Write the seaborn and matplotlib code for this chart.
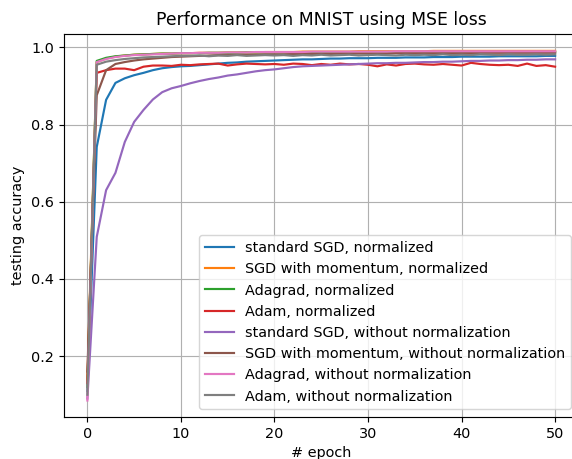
import matplotlib
matplotlib.use("Agg")
import matplotlib.pyplot as plt
import seaborn as sns
import pandas as pd

epochs = list(range(51))

labels = [
    "standard SGD, normalized",
    "SGD with momentum, normalized",
    "Adagrad, normalized",
    "Adam, normalized",
    "standard SGD, without normalization",
    "SGD with momentum, without normalization",
    "Adagrad, without normalization",
    "Adam, without normalization",
]

sgd_norm = [0.11, 0.742, 0.864, 0.908, 0.920, 0.928, 0.934, 0.941, 0.946, 0.949,
            0.951, 0.952, 0.954, 0.956, 0.958, 0.960, 0.961, 0.963, 0.964, 0.965,
            0.966, 0.967, 0.968, 0.969, 0.969, 0.970, 0.971, 0.971, 0.972, 0.972,
            0.972, 0.973, 0.973, 0.973, 0.974, 0.974, 0.974, 0.975, 0.975, 0.975,
            0.976, 0.976, 0.976, 0.976, 0.977, 0.977, 0.977, 0.977, 0.977, 0.978,
            0.978]
momentum_norm = [0.14, 0.962, 0.971, 0.976, 0.979, 0.981, 0.982, 0.983, 0.984, 0.984,
                 0.985, 0.985, 0.986, 0.986, 0.986, 0.987, 0.987, 0.987, 0.987, 0.988,
                 0.988, 0.988, 0.988, 0.989, 0.989, 0.989, 0.989, 0.989, 0.989, 0.990,
                 0.990, 0.990, 0.990, 0.990, 0.990, 0.990, 0.990, 0.991, 0.991, 0.991,
                 0.991, 0.991, 0.991, 0.991, 0.991, 0.991, 0.991, 0.991, 0.991, 0.991,
                 0.991]
adagrad_norm = [0.12, 0.965, 0.973, 0.977, 0.979, 0.981, 0.982, 0.983, 0.984, 0.984,
                0.985, 0.985, 0.985, 0.986, 0.986, 0.986, 0.986, 0.987, 0.987, 0.987,
                0.987, 0.987, 0.987, 0.988, 0.988, 0.988, 0.988, 0.988, 0.988, 0.988,
                0.988, 0.988, 0.988, 0.988, 0.988, 0.988, 0.988, 0.988, 0.988, 0.988,
                0.988, 0.988, 0.988, 0.988, 0.988, 0.988, 0.988, 0.988, 0.988, 0.988,
                0.988]
adam_norm = [0.13, 0.934, 0.941, 0.945, 0.945, 0.941, 0.950, 0.953, 0.953, 0.952,
             0.955, 0.954, 0.956, 0.957, 0.958, 0.953, 0.956, 0.958, 0.957, 0.956,
             0.957, 0.955, 0.958, 0.957, 0.954, 0.957, 0.955, 0.958, 0.956, 0.957,
             0.955, 0.951, 0.956, 0.953, 0.957, 0.958, 0.956, 0.955, 0.957, 0.955,
             0.953, 0.960, 0.957, 0.955, 0.954, 0.955, 0.952, 0.958, 0.952, 0.954,
             0.950]
sgd_raw = [0.09, 0.509, 0.630, 0.675, 0.755, 0.807, 0.838, 0.865, 0.884, 0.894,
           0.900, 0.907, 0.913, 0.918, 0.922, 0.927, 0.930, 0.934, 0.938, 0.941,
           0.943, 0.946, 0.949, 0.951, 0.952, 0.953, 0.954, 0.955, 0.956, 0.957,
           0.958, 0.959, 0.959, 0.960, 0.960, 0.961, 0.962, 0.962, 0.963, 0.963,
           0.964, 0.965, 0.965, 0.966, 0.966, 0.967, 0.967, 0.968, 0.968, 0.969,
           0.969]
momentum_raw = [0.16, 0.876, 0.941, 0.957, 0.962, 0.966, 0.969, 0.971, 0.973, 0.975,
                0.976, 0.977, 0.978, 0.979, 0.980, 0.980, 0.981, 0.981, 0.981, 0.982,
                0.982, 0.982, 0.983, 0.983, 0.983, 0.983, 0.983, 0.984, 0.984, 0.984,
                0.984, 0.984, 0.984, 0.985, 0.985, 0.985, 0.985, 0.985, 0.985, 0.985,
                0.985, 0.985, 0.986, 0.986, 0.986, 0.986, 0.986, 0.986, 0.986, 0.986,
                0.986]
adagrad_raw = [0.085, 0.962, 0.970, 0.975, 0.978, 0.980, 0.981, 0.982, 0.983, 0.984,
               0.985, 0.985, 0.986, 0.986, 0.986, 0.987, 0.987, 0.987, 0.988, 0.988,
               0.988, 0.988, 0.988, 0.988, 0.989, 0.989, 0.989, 0.989, 0.989, 0.989,
               0.989, 0.989, 0.989, 0.990, 0.990, 0.990, 0.990, 0.990, 0.990, 0.990,
               0.990, 0.990, 0.990, 0.990, 0.990, 0.990, 0.990, 0.990, 0.990, 0.990,
               0.990]
adam_raw = [0.10, 0.955, 0.963, 0.967, 0.970, 0.972, 0.974, 0.975, 0.976, 0.977,
            0.978, 0.978, 0.979, 0.977, 0.979, 0.978, 0.980, 0.978, 0.979, 0.980,
            0.979, 0.980, 0.978, 0.980, 0.979, 0.981, 0.979, 0.980, 0.981, 0.979,
            0.980, 0.981, 0.980, 0.979, 0.981, 0.980, 0.981, 0.980, 0.982, 0.980,
            0.981, 0.980, 0.982, 0.981, 0.980, 0.982, 0.981, 0.981, 0.982, 0.981,
            0.982]

series = [sgd_norm, momentum_norm, adagrad_norm, adam_norm,
          sgd_raw, momentum_raw, adagrad_raw, adam_raw]

rows = []
for lab, vals in zip(labels, series):
    for e, v in zip(epochs, vals):
        rows.append({"epoch": e, "acc": v, "optimizer": lab})
df = pd.DataFrame(rows)

plt.rcParams["font.family"] = ["DejaVu Sans"]
DPI = 103.7
fig = plt.figure(figsize=(572 / DPI, 459 / DPI), dpi=DPI)
ax = fig.add_axes([64 / 572, 1 - 416.5 / 459, 514.5 / 572, 383 / 459])

sns.lineplot(data=df, x="epoch", y="acc", hue="optimizer", hue_order=labels,
             palette=sns.color_palette("tab10", 8), linewidth=1.5, ax=ax)

ax.set_xlim(-2.5, 52.5)
ax.set_ylim(0.0436, 1.036)
ax.set_xticks([0, 10, 20, 30, 40, 50])
ax.set_yticks([0.2, 0.4, 0.6, 0.8, 1.0])
ax.grid(True, color="#b0b0b0", linewidth=0.8)
ax.set_xlabel("# epoch", fontsize=10)
ax.set_ylabel("testing accuracy", fontsize=10)
ax.set_title("Performance on MNIST using MSE loss", fontsize=12)
ax.tick_params(labelsize=10)
ax.legend(loc="lower right", fontsize=10)

fig.savefig("out.png", dpi=DPI)
